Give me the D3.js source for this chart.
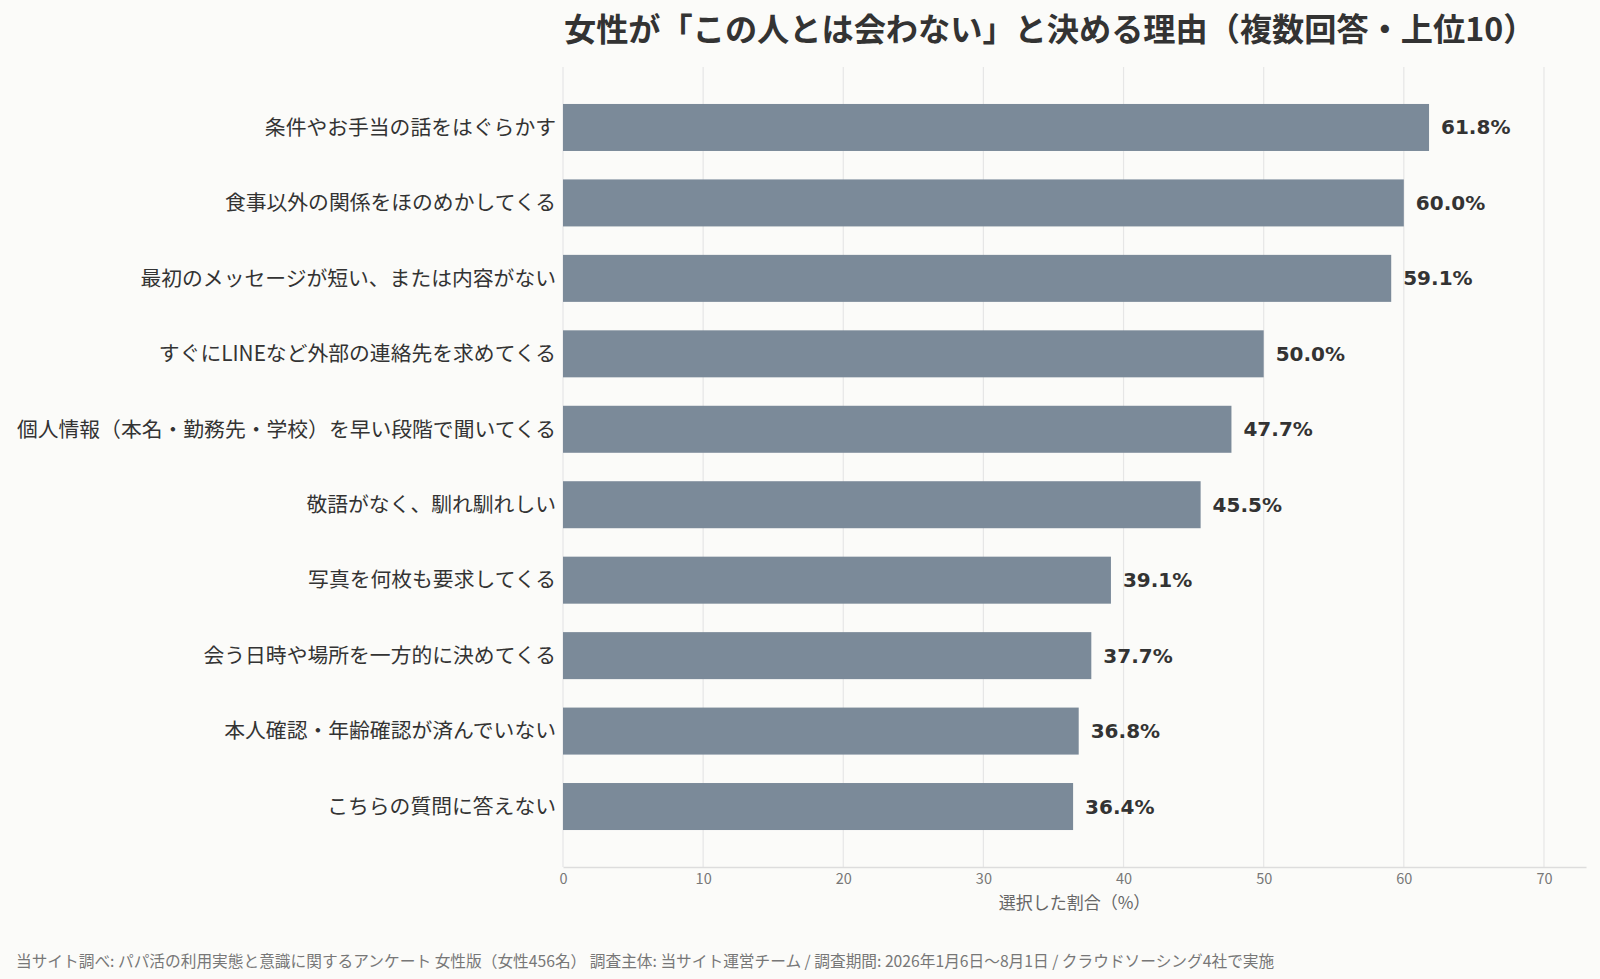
<!DOCTYPE html>
<html>
<head>
<meta charset="utf-8">
<script src="https://cdn.jsdelivr.net/npm/d3@7"></script>
<style>
  body { margin: 0; background: #fbfbf9; }
  text { font-family: "Noto Sans CJK JP", "Noto Sans", sans-serif; }
</style>
</head>
<body>
<div id="chart"></div>
<script>
// data
var reasons = [
    "条件やお手当の話をはぐらかす",
    "食事以外の関係をほのめかしてくる",
    "最初のメッセージが短い、または内容がない",
    "すぐにLINEなど外部の連絡先を求めてくる",
    "個人情報（本名・勤務先・学校）を早い段階で聞いてくる",
    "敬語がなく、馴れ馴れしい",
    "写真を何枚も要求してくる",
    "会う日時や場所を一方的に決めてくる",
    "本人確認・年齢確認が済んでいない",
    "こちらの質問に答えない"
];
var shares = [61.8, 60.0, 59.1, 50.0, 47.7, 45.5, 39.1, 37.7, 36.8, 36.4];
var xTicks = [0, 10, 20, 30, 40, 50, 60, 70];

var titleText = "女性が「この人とは会わない」と決める理由（複数回答・上位10）";
var xLabel = "選択した割合（%）";
var sourceText = "当サイト調べ: パパ活の利用実態と意識に関するアンケート 女性版（女性456名）  調査主体: 当サイト運営チーム / 調査期間: 2026年1月6日〜8月1日 / クラウドソーシング4社で実施";

// svg container
var svgWidth = 1600;
var svgHeight = 979;

var margin = { top: 67, right: 14, bottom: 112, left: 563 };
var chartWidth = svgWidth - margin.left - margin.right;
var chartHeight = svgHeight - margin.top - margin.bottom;

var svg = d3.select("#chart").append("svg")
    .attr("width", svgWidth)
    .attr("height", svgHeight)
    .style("display", "block");

svg.append("rect")
    .attr("width", svgWidth)
    .attr("height", svgHeight)
    .attr("fill", "#fbfbf9");

var chartGroup = svg.append("g")
    .attr("transform", `translate(${margin.left}, ${margin.top})`);

// scales
var xScale = d3.scaleLinear()
    .domain([0, 73])
    .range([0, chartWidth]);

var yScale = d3.scaleBand()
    .domain(reasons)
    .range([0, chartHeight])
    .paddingInner(0.377)
    .paddingOuter(0.49);

// gridlines
chartGroup.append("g")
    .selectAll("line")
    .data(xTicks)
    .enter()
    .append("line")
    .attr("x1", d => xScale(d))
    .attr("x2", d => xScale(d))
    .attr("y1", 0)
    .attr("y2", chartHeight)
    .attr("stroke", "#e6e6e6")
    .attr("stroke-width", 1.2);

// x axis
var xAxis = d3.axisBottom(xScale)
    .tickValues(xTicks)
    .tickSize(0)
    .tickPadding(7);

var xAxisGroup = chartGroup.append("g")
    .attr("transform", `translate(0, ${chartHeight})`)
    .call(xAxis);

xAxisGroup.select(".domain")
    .attr("stroke", "#dddddd")
    .attr("stroke-width", 1.5);

xAxisGroup.selectAll("text")
    .attr("fill", "#777777")
    .style("font-size", "14.5px");

// bars
chartGroup.selectAll(".bar")
    .data(shares)
    .enter()
    .append("rect")
    .attr("class", "bar")
    .attr("x", 0)
    .attr("y", (d, i) => yScale(reasons[i]))
    .attr("width", d => xScale(d))
    .attr("height", yScale.bandwidth())
    .attr("fill", "#7b8a99");

// value labels
chartGroup.selectAll(".valueText")
    .data(shares)
    .enter()
    .append("text")
    .attr("class", "valueText")
    .attr("x", d => xScale(d) + 12)
    .attr("y", (d, i) => yScale(reasons[i]) + yScale.bandwidth() / 2)
    .attr("dy", "0.35em")
    .attr("fill", "#333333")
    .style("font-family", "'DejaVu Sans', sans-serif")
    .style("font-size", "20px")
    .style("font-weight", "bold")
    .text(d => d.toFixed(1) + "%");

// category labels
chartGroup.selectAll(".catText")
    .data(reasons)
    .enter()
    .append("text")
    .attr("class", "catText")
    .attr("x", -7)
    .attr("y", d => yScale(d) + yScale.bandwidth() / 2)
    .attr("dy", "0.35em")
    .attr("text-anchor", "end")
    .attr("fill", "#333333")
    .style("font-size", "20.8px")
    .text(d => d);

// axis title
chartGroup.append("text")
    .attr("x", chartWidth / 2)
    .attr("y", chartHeight + 42)
    .attr("text-anchor", "middle")
    .attr("fill", "#666666")
    .style("font-size", "17px")
    .text(xLabel);

// title
svg.append("text")
    .attr("x", margin.left + 1)
    .attr("y", 41)
    .attr("fill", "#333333")
    .style("font-size", "32.2px")
    .style("font-weight", "bold")
    .text(titleText);

// source note
svg.append("text")
    .attr("x", 16)
    .attr("y", 967)
    .attr("fill", "#777777")
    .style("font-size", "15.7px")
    .text(sourceText);
</script>
</body>
</html>
